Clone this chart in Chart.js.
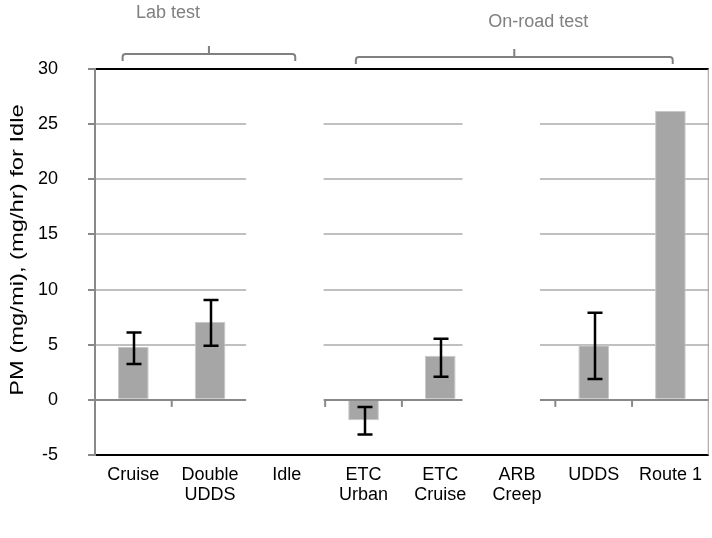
<!DOCTYPE html>
<html>
<head>
<meta charset="utf-8">
<script src="https://cdn.jsdelivr.net/npm/chart.js@4.4.1/dist/chart.umd.min.js"></script>
<style>
  html, body { margin: 0; padding: 0; background: #fff; }
  #wrap { width: 712px; height: 538px; }
</style>
</head>
<body>
<div id="wrap"><canvas id="pm_chart"></canvas></div>
<script>
// PM emission per test cycle, with error ranges
const categories = ['Cruise', ['Double', 'UDDS'], 'Idle', ['ETC', 'Urban'], ['ETC', 'Cruise'], ['ARB', 'Creep'], 'UDDS', 'Route 1'];
const pmValues = [4.8, 7.05, null, -1.85, 4.0, null, 4.95, 26.2];
const errLow  = [3.25, 4.9, null, -3.15, 2.1, null, 1.9, null];
const errHigh = [6.1, 9.05, null, -0.65, 5.55, null, 7.9, null];

const yMin = -5, yMax = 30, yStep = 5;
const yTitle = 'PM (mg/mi), (mg/hr) for Idle';

// test groups shown as brackets above the plot
const groupLabels = ['Lab test', 'On-road test'];
const groupFirst = [0, 3];
const groupLast = [2, 7];

const FONT = 'Liberation Sans, Arial, sans-serif';

// ===========================================================================

// blank columns over the grid + little ticks on the zero line
const gapPlugin = {
  id: 'gaps',
  beforeDatasetsDraw(chart) {
    const { ctx, chartArea, scales: { x, y } } = chart;
    const gaps = [[1.47, 2.48], [4.29, 5.30]];
    const inGap = px => gaps.some(g => px > x.getPixelForValue(g[0]) && px < x.getPixelForValue(g[1]));
    ctx.save();
    ctx.fillStyle = '#fff';
    gaps.forEach(g => {
      const x0 = x.getPixelForValue(g[0]), x1 = x.getPixelForValue(g[1]);
      ctx.fillRect(x0, chartArea.top + 1.5, x1 - x0, chartArea.bottom - chartArea.top - 3);
    });
    const y0 = y.getPixelForValue(0);
    ctx.strokeStyle = '#888';
    ctx.lineWidth = 2;
    for (let i = 0; i < categories.length - 1; i++) {
      const px = x.getPixelForValue(i + 0.5);
      if (inGap(px)) continue;
      ctx.beginPath();
      ctx.moveTo(px, y0);
      ctx.lineTo(px, y0 + 7);
      ctx.stroke();
    }
    // thin right border
    ctx.strokeStyle = '#999';
    ctx.lineWidth = 1;
    ctx.beginPath();
    ctx.moveTo(chartArea.right - 0.5, chartArea.top);
    ctx.lineTo(chartArea.right - 0.5, chartArea.bottom);
    ctx.stroke();
    ctx.restore();
  }
};

const errorBarPlugin = {
  id: 'errorBars',
  afterDatasetsDraw(chart) {
    const { ctx, scales: { x, y } } = chart;
    ctx.save();
    ctx.strokeStyle = '#000';
    ctx.lineWidth = 2.5;
    errLow.forEach((lo, i) => {
      const hi = errHigh[i];
      if (lo == null || hi == null) return;
      const px = Math.round(x.getPixelForValue(i)) + 1;
      const yl = y.getPixelForValue(lo), yh = y.getPixelForValue(hi);
      ctx.beginPath();
      ctx.moveTo(px, yl); ctx.lineTo(px, yh);
      ctx.moveTo(px - 7.5, yl); ctx.lineTo(px + 7.5, yl);
      ctx.moveTo(px - 7.5, yh); ctx.lineTo(px + 7.5, yh);
      ctx.stroke();
    });
    ctx.restore();
  }
};

// group brackets on top + the stretched y title
const bracketPlugin = {
  id: 'brackets',
  afterDraw(chart) {
    const { ctx, chartArea, scales: { x } } = chart;
    const rise = [15, 12];
    const padL = [-0.14, -0.1], padR = [0.11, 0.03];
    const textDx = [-41, 24], textY = [13, 22];
    ctx.save();
    ctx.strokeStyle = '#808080';
    ctx.lineWidth = 2;
    ctx.fillStyle = '#808080';
    ctx.font = '18px ' + FONT;
    ctx.textAlign = 'center';
    ctx.textBaseline = 'middle';
    groupLabels.forEach((label, i) => {
      const x0 = x.getPixelForValue(groupFirst[i] + padL[i]);
      const x1 = x.getPixelForValue(groupLast[i] + padR[i]);
      const yb = chartArea.top - rise[i];
      const mid = (x0 + x1) / 2;
      const r = 3;
      ctx.beginPath();
      ctx.moveTo(x0, yb + 7);
      ctx.arcTo(x0, yb, x0 + r, yb, r);
      ctx.lineTo(x1 - r, yb);
      ctx.arcTo(x1, yb, x1, yb + 7, r);
      ctx.lineTo(x1, yb + 7);
      ctx.moveTo(mid, yb);
      ctx.lineTo(mid, yb - 8);
      ctx.stroke();
      ctx.fillText(label, mid + textDx[i], textY[i]);
    });
    ctx.restore();

    ctx.save();
    ctx.translate(18, 250);
    ctx.rotate(-Math.PI / 2);
    ctx.scale(1.25, 1);
    ctx.font = '19px ' + FONT;
    ctx.fillStyle = '#000';
    ctx.textAlign = 'center';
    ctx.textBaseline = 'middle';
    ctx.fillText(yTitle, 0, 0);
    ctx.restore();
  }
};

function createPmChart(ctx) {
  return new Chart(ctx, {
    type: 'bar',
    data: {
      labels: categories,
      datasets: [{
        data: pmValues,
        backgroundColor: '#a6a6a6',
        borderColor: '#c8c8c8',
        borderWidth: 1,
        categoryPercentage: 1,
        barPercentage: 0.4
      }]
    },
    options: {
      responsive: true,
      maintainAspectRatio: false,
      animation: false,
      layout: { padding: { top: 69, right: 1, left: 0, bottom: 0 } },
      plugins: {
        legend: { display: false },
        tooltip: { enabled: false }
      },
      scales: {
        x: {
          grid: { display: false, drawTicks: false },
          border: { display: false },
          ticks: {
            color: '#000',
            font: { family: FONT, size: 18, lineHeight: 1.1 },
            padding: 10,
            maxRotation: 0,
            autoSkip: false
          },
          afterFit: s => { s.height = 83; }
        },
        y: {
          min: yMin,
          max: yMax,
          ticks: {
            stepSize: yStep,
            color: '#000',
            font: { family: FONT, size: 18 },
            padding: 30
          },
          grid: {
            color: c => (c.tick.value === yMax || c.tick.value === yMin) ? '#000' : (c.tick.value === 0 ? '#888' : '#c0c0c0'),
            lineWidth: 2,
            tickColor: '#888',
            tickLength: 7
          },
          border: { color: '#888', width: 2 },
          afterFit: s => { s.width = 95; }
        }
      }
    },
    plugins: [gapPlugin, errorBarPlugin, bracketPlugin]
  });
}

//===========================================================================

createPmChart(document.getElementById('pm_chart'));
</script>
</body>
</html>
